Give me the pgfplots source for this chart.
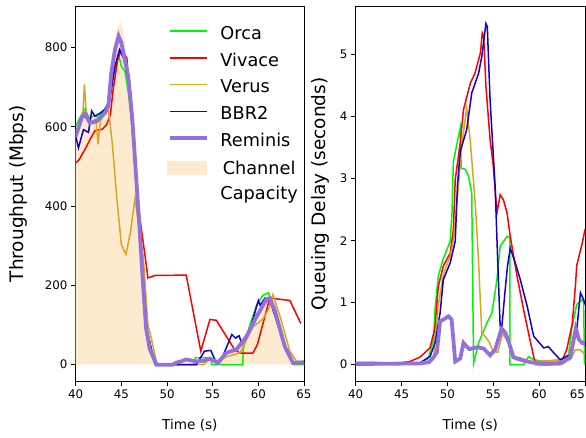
\documentclass[border=0pt]{standalone}
\usepackage{fontspec}
\setmainfont{DejaVu Sans}
\usepackage{pgfplots}
\pgfplotsset{compat=1.18}

\definecolor{orcac}{RGB}{0,245,0}
\definecolor{vivacec}{RGB}{255,0,0}
\definecolor{verusc}{RGB}{218,165,32}
\definecolor{bbrc}{RGB}{20,0,200}
\definecolor{reminisc}{RGB}{147,112,219}
\definecolor{capc}{RGB}{253,235,207}

\pgfplotsset{
  common/.style={
    scale only axis,
    anchor=south west,
    xmin=40, xmax=65,
    xtick={40,45,50,55,60,65},
    tick align=outside,
    xtick pos=bottom, ytick pos=left,
    major tick length=4.7pt,
    every tick/.style={black, line width=0.8pt},
    axis line style={line width=0.9pt},
    tick label style={font=\fontsize{11.8}{14}\selectfont},
    /pgf/number format/assume math mode=true,
    xlabel={Time (s)},
    xlabel style={font=\fontsize{13.6}{16}\selectfont, at={(axis description cs:0.5,-0.115)}, anchor=center},
  },
  thinline/.style={line width=1.5pt},
}

\begin{document}
\begin{tikzpicture}
\useasboundingbox (0,0) rectangle (586pt,438pt);

% throughput
\begin{axis}[common,
  at={(75.7pt,56.3pt)}, width=228.3pt, height=375.7pt,
  ymin=-43, ymax=905,
  ytick={0,200,400,600,800},
  ylabel={Throughput (Mbps)},
  every axis y label/.style={at={(axis description cs:-0.253,0.5)}, rotate=90, anchor=center, font=\fontsize{18.5}{22}\selectfont},
  legend style={at={(axis description cs:0.3875,0.958)}, anchor=north west, draw=none, fill=none,
    font=\fontsize{17.7}{25.3}\selectfont, row sep=8.2pt, legend cell align=left,
    nodes={inner sep=2pt}},
  legend image code/.code={\draw[#1] (0pt,2.5pt) -- (37pt,2.5pt); \path (47pt,0pt);},
]
\addplot[fill=capc, draw=none, forget plot] coordinates {
(40,585) (40.5,615) (41,645) (41.5,625) (42,620) (42.5,628) (43,640) (43.5,660)
(43.9,745) (44.3,820) (44.7,855) (44.95,865) (45.3,830) (45.8,745) (46.3,620)
(46.8,440) (47.2,270) (47.6,130) (48,60) (48.5,15) (48.9,0) (53,0) (54,8) (55,12)
(56,15) (57,28) (58,40) (59,75) (60,125) (61,165) (61.6,176) (62.2,130) (62.8,70)
(63.4,28) (64,6) (65,5)} \closedcycle;

\addplot[orcac, thinline] coordinates {
(40,602) (40.5,625) (41,645) (41.5,622) (42,628) (42.5,625) (43,640) (43.5,655)
(44,715) (44.4,760) (44.75,778) (45.0,752) (45.4,740) (45.8,680) (46.2,600)
(46.6,480) (47,330) (47.4,180) (47.8,70) (48.2,30) (48.7,0) (53.0,0) (53.1,18)
(54.8,18) (54.9,0) (58.3,0) (58.35,40) (59,95) (59.8,150) (60.5,175) (61.1,181)
(61.6,150) (62.2,95) (62.9,40) (63.8,5) (64,0) (65,0)};
\addlegendentry{Orca}

\addplot[vivacec, thinline] coordinates {
(40,509) (40.4,518) (41.2,551) (41.56,568) (42.1,590) (42.9,594) (43.4,606)
(43.8,631) (44.1,694) (44.6,770) (45,795) (45.6,774) (46.1,619) (46.7,450)
(47.0,375) (47.75,248) (47.9,219) (48.7,225) (52.1,226) (53.7,34) (54.7,114)
(55.4,112) (57.4,38) (58,29) (59.4,29) (59.9,51) (61.25,168) (62,166) (63.45,162)
(64.65,104)};
\addlegendentry{Vivace}

\addplot[verusc, thinline] coordinates {
(40,590) (40.5,610) (40.8,640) (40.95,707) (41.2,620) (41.6,612) (42.2,620)
(42.45,556) (42.7,614) (43.2,638) (43.6,640) (44.0,560) (44.5,420) (45.0,303)
(45.5,278) (46.0,335) (46.5,420) (46.9,350) (47.4,273) (47.9,101) (48.2,75)
(48.9,0) (54.0,0) (54.7,17) (55.5,5) (56.5,20) (58,30) (59.4,95) (60.5,115)
(61.1,139) (61.6,177) (62.4,120) (63.45,34) (64.2,8) (65,8)};
\addlegendentry{Verus}

\addplot[bbrc, thinline] coordinates {
(40,576) (40.3,547) (40.85,593) (41.4,586) (41.75,640) (42.1,627) (42.7,635)
(43.2,644) (43.7,665) (44.3,753) (44.8,795) (45.3,770) (46.0,690) (46.5,530)
(46.8,417) (47.4,210) (47.8,88) (48.7,0) (53.2,0) (54.1,34) (54.8,36) (55.4,4)
(56.1,21) (57.1,76) (57.5,67) (57.9,73) (58.2,51) (59.1,89) (60,162) (60.2,150)
(60.75,168) (61.3,160) (62,110) (62.9,45) (63.8,5) (65,6)};
\addlegendentry{BBR2}

\addplot[reminisc, line width=3.8pt] coordinates {
(40,576) (40.66,623) (41.0,632) (41.56,610) (42.3,614) (43.2,635) (43.57,652)
(43.9,736) (44.3,795) (44.7,829) (45.0,812) (45.75,728) (46.2,620) (46.6,480)
(47.0,340) (47.3,230) (47.7,93) (48.1,40) (48.86,0) (50.6,0) (51,5) (51.5,8)
(52.1,13) (53.2,8) (54,10) (54.7,15) (55.6,5) (56.5,30) (57.6,38) (58.7,71)
(59.8,121) (60.9,165) (61.25,168) (61.8,137) (62.9,46) (63.8,4) (65,6)};
\addlegendentry{Reminis}

\addlegendimage{legend image code/.code={\fill[capc] (-2pt,6.35pt) rectangle (37pt,19.35pt); \path (47pt,0pt);}}
\addlegendentry[align=left]{\hspace*{2.3pt}Channel\\Capacity}
\end{axis}

% queuing delay
\begin{axis}[common,
  at={(355.7pt,56.3pt)}, width=229.3pt, height=375.7pt,
  ymin=-0.275, ymax=5.785,
  ytick={0,1,2,3,4,5},
  xticklabels={40,45,50,55,60,\makebox[0pt][r]{65}},
  ylabel={Queuing Delay (seconds)},
  every axis y label/.style={at={(axis description cs:-0.156,0.5)}, rotate=90, anchor=center, font=\fontsize{18.5}{22}\selectfont},
]
\addplot[orcac, thinline] coordinates {
(40,0.02) (45,0.01) (47,0.03) (47.9,0.1) (48.5,0.4) (48.65,0.89) (49.0,1.42)
(49.5,1.69) (50.3,1.99) (50.5,2.45) (50.65,3.28) (51.4,3.82) (51.5,3.17)
(51.95,3.15) (52.3,3.04) (52.65,2.77) (52.85,0.02) (53.4,0.35) (54.3,0.67)
(54.85,0.83) (55.4,1.37) (55.75,1.91) (56.5,2.07) (56.8,2.05) (56.82,0) (58.3,0)
(58.85,0.13) (59.4,0.08) (60.5,0.05) (62.3,0.08) (63.2,0.16) (63.6,0.62)
(64.1,0.97) (64.7,1.05) (64.85,1.0) (64.95,0)};

\addplot[vivacec, thinline] coordinates {
(40,0.02) (44,0.01) (45.9,0.05) (47,0.12) (48.1,0.27) (48.65,0.6) (49.0,1.26)
(49.55,1.59) (50.3,1.8) (50.65,2.18) (50.85,2.98) (51.4,3.58) (51.75,4.11)
(52.5,4.54) (53.0,4.7) (53.6,5.03) (53.8,5.35) (53.95,5.3) (54.2,4.49)
(54.65,3.63) (55.0,3.2) (55.4,2.45) (55.75,2.74) (56.1,2.66) (56.5,2.45)
(56.85,2.07) (57.6,1.42) (58.3,0.89) (59.0,0.4) (59.6,0.0) (62.3,0.0) (63.0,0.24)
(63.6,0.65) (63.95,1.26) (64.1,1.6) (64.7,1.96) (65,2.18)};

\addplot[verusc, thinline] coordinates {
(40,0.04) (42,0.04) (45,0.01) (47,0.02) (48,0.05) (48.5,0.12) (49.0,0.94)
(49.55,1.45) (50.3,1.75) (50.65,2.0) (51.2,2.88) (51.55,3.52) (52.1,4.14)
(52.5,3.6) (52.9,2.85) (53.1,2.45) (53.4,1.64) (53.75,0.51) (54.1,0.46)
(54.6,0.35) (55.0,0.21) (55.5,0.2) (56.0,0.5) (56.7,0.35) (57.1,0.13)
(57.95,0.11) (59.0,0.05) (63.4,0.08) (63.95,0.24) (64.5,0.24) (65,0.16)};

\addplot[bbrc, thinline] coordinates {
(40,0.02) (45,0.01) (47,0.03) (48.1,0.13) (48.65,0.35) (49.2,0.83) (49.55,1.37)
(50.3,1.64) (50.85,1.99) (51.1,2.9) (51.4,3.44) (52.1,3.79) (52.65,4.38)
(53.4,4.7) (53.75,4.97) (54.2,5.5) (54.35,5.45) (54.65,4.27) (55.2,2.88)
(55.5,1.6) (55.75,0.62) (55.9,0.56) (56.3,1.21) (56.55,1.59) (56.85,1.88)
(57.4,1.64) (57.95,1.37) (58.7,0.94) (59.4,0.46) (60.5,0.27) (61.0,0.29)
(61.6,0.19) (62.3,0.08) (63.4,0.16) (64.1,0.56) (64.5,1.16) (64.85,1.05) (65,0.97)};

\addplot[reminisc, line width=3.8pt] coordinates {
(40,0.01) (47,0.02) (48,0.04) (48.5,0.12) (48.85,0.2) (49.2,0.7) (49.6,0.73)
(50.1,0.78) (50.45,0.73) (50.65,0.4) (50.85,0.05) (51.4,0.1) (51.75,0.35)
(52.05,0.3) (52.4,0.25) (53.25,0.28) (53.95,0.26) (54.65,0.15) (55.2,0.24)
(55.9,0.58) (56.3,0.52) (56.7,0.36) (57.2,0.12) (57.95,0.08) (59.0,0.04)
(60.5,0.01) (62.5,0.03) (63.4,0.12) (64.0,0.58) (64.35,0.4) (64.7,0.35) (65,0.35)};
\end{axis}
\end{tikzpicture}
\end{document}
